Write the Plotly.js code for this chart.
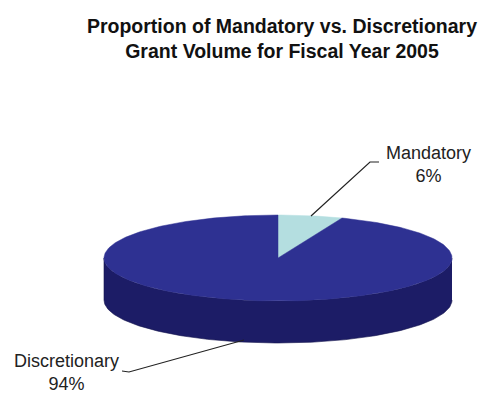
<!DOCTYPE html>
<html>
<head>
<meta charset="utf-8">
<script src="https://cdn.plot.ly/plotly-3.0.1.min.js"></script>
<style>html,body{margin:0;padding:0;background:#fff;}#chart{width:482px;height:395px;}</style>
</head>
<body>
<div id="chart"></div>
<script>
// ---- data ----
const labels = ['Mandatory', 'Discretionary'];
const values = [6, 94];

// ---- style / geometry (layout constants) ----
const topColors = ['#B4DEE0', '#2E3192'];
const sideColors = ['#7FB3B8', '#1C1C66'];
const cx = 278, cy = 258, a = 174, b = 43, depth = 42;

function pt(theta, dy) {
  const r = theta * Math.PI / 180;
  return [cx + a * Math.sin(r), cy - b * Math.cos(r) + dy];
}
function arc(t0, t1, dy) {
  const xs = [], ys = [];
  const n = Math.max(2, Math.ceil(Math.abs(t1 - t0)));
  for (let i = 0; i <= n; i++) {
    const p = pt(t0 + (t1 - t0) * i / n, dy);
    xs.push(p[0]); ys.push(p[1]);
  }
  return [xs, ys];
}

const total = values.reduce((s, v) => s + v, 0);
const angles = [];
let acc = 0;
values.forEach(v => { const t0 = acc / total * 360; acc += v; angles.push([t0, acc / total * 360]); });

const traces = [];
// sides first
angles.forEach(([t0, t1], i) => {
  const s0 = Math.max(t0, 90), s1 = Math.min(t1, 270);
  if (s0 < s1) {
    const [x1, y1] = arc(s0, s1, 0);
    const [x2, y2] = arc(s1, s0, depth);
    traces.push({
      type: 'scatter', mode: 'lines', x: x1.concat(x2), y: y1.concat(y2),
      fill: 'toself', fillcolor: sideColors[i],
      line: { color: '#14144d', width: 0.6 }, hoverinfo: 'skip', showlegend: false
    });
  }
});
// tops
angles.forEach(([t0, t1], i) => {
  const [xs, ys] = arc(t0, t1, 0);
  traces.push({
    type: 'scatter', mode: 'lines',
    x: [cx].concat(xs, [cx]), y: [cy].concat(ys, [cy]),
    fill: 'toself', fillcolor: topColors[i],
    line: { color: topColors[i], width: 0.5 },
    name: labels[i], hoverinfo: 'skip', showlegend: false
  });
});

const pct = values.map(v => Math.round(v / total * 100) + '%');
const labelFont = { family: 'Liberation Sans, Arial, sans-serif', size: 18, color: '#222' };

const layout = {
  width: 482, height: 395,
  margin: { l: 0, r: 0, t: 0, b: 0 },
  paper_bgcolor: '#fff', plot_bgcolor: '#fff',
  title: {
    text: '<b>Proportion of Mandatory vs. Discretionary<br>Grant Volume for Fiscal Year 2005</b>',
    x: 282 / 482, xanchor: 'center', y: 1 - 33 / 395, yanchor: 'middle',
    font: { family: 'Liberation Sans, Arial, sans-serif', size: 19.5, color: '#111' }
  },
  xaxis: { range: [0, 482], visible: false, fixedrange: true },
  yaxis: { range: [395, 0], visible: false, fixedrange: true },
  shapes: [
    { type: 'path', path: 'M311,216 L370,162 L379,162', line: { color: '#222', width: 1.2 } },
    { type: 'path', path: 'M122,371 L129,372 L244,340', line: { color: '#222', width: 1.2 } }
  ],
  annotations: [
    { x: 428, y: 164, xref: 'x', yref: 'y', text: labels[0] + '<br>' + pct[0], showarrow: false,
      xanchor: 'center', yanchor: 'middle', align: 'center', font: labelFont },
    { x: 66, y: 372, xref: 'x', yref: 'y', text: labels[1] + '<br>' + pct[1], showarrow: false,
      xanchor: 'center', yanchor: 'middle', align: 'center', font: labelFont }
  ]
};

Plotly.newPlot('chart', traces, layout, { displayModeBar: false, staticPlot: true });
</script>
</body>
</html>
